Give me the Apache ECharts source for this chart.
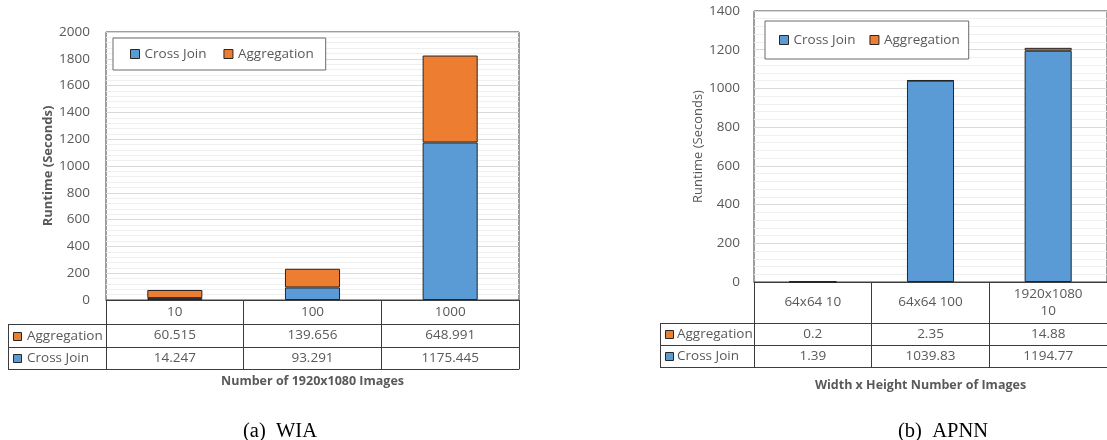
<!DOCTYPE html>
<html>
<head>
<meta charset="utf-8">
<script src="https://cdn.jsdelivr.net/npm/echarts@6/dist/echarts.min.js"></script>
<style>
  html, body { margin: 0; padding: 0; background: #ffffff; }
  #chart { width: 1107px; height: 440px; }
</style>
</head>
<body>
<div id="chart"></div>
<script>
// (a) WIA: runtime by number of 1920x1080 images
const wiaCategories = ['10', '100', '1000'];
const wiaCrossJoin = [14.247, 93.291, 1175.445];
const wiaAggregation = [60.515, 139.656, 648.991];
const wiaYMax = 2000;
const wiaYStep = 200;

// (b) APNN: runtime by image size and count
const apnnCategories = ['64x64 10', '64x64 100', '1920x1080\n10'];
const apnnCrossJoin = [1.39, 1039.83, 1194.77];
const apnnAggregation = [0.2, 2.35, 14.88];
const apnnYMax = 1400;
const apnnYStep = 200;

const seriesNames = ['Cross Join', 'Aggregation'];
const tableRowNames = ['Aggregation', 'Cross Join'];

const FONT = '"Open Sans", sans-serif';
const FS = 13.5;
const TEXT = '#595959';
const RULE = '#3c3c3c';
const BLUE = '#5b9bd5';
const ORANGE = '#ed7d31';
const EDGE = '#262626';

const panels = [
  {
    categories: wiaCategories, crossJoin: wiaCrossJoin, aggregation: wiaAggregation,
    yMax: wiaYMax, yStep: wiaYStep,
    grid: { left: 106, top: 32, width: 413, height: 268 },
    rows: [24, 23, 22], tableLeft: 8, keyText: 19,
    yName: 'Runtime (Seconds)', yNameBold: true, yNameGap: 46, yLabelMargin: 16,
    xTitle: 'Number of 1920x1080 Images', xTitlePos: [312.5, 381],
    caption: '(a)  WIA', captionPos: [280, 432],
    legend: { left: 113, top: 38, padding: [9, 12, 9, 17], itemGap: 17 }
  },
  {
    categories: apnnCategories, crossJoin: apnnCrossJoin, aggregation: apnnAggregation,
    yMax: apnnYMax, yStep: apnnYStep,
    grid: { left: 754, top: 11, width: 354, height: 271 },
    rows: [41, 22, 22], tableLeft: 660, keyText: 17,
    yName: 'Runtime (Seconds)', yNameBold: false, yNameGap: 47, yLabelMargin: 14,
    xTitle: 'Width x Height Number of Images', xTitlePos: [920.5, 385],
    caption: '(b)  APNN', captionPos: [943, 432],
    legend: { left: 765, top: 21, padding: [12, 9, 12, 14], itemGap: 14 }
  }
];

const option = {
  animation: false,
  grid: [], xAxis: [], yAxis: [], series: [], legend: [], graphic: []
};

panels.forEach((p, gi) => {
  const xBase = option.xAxis.length;
  const bottom = p.grid.top + p.grid.height;
  const rowTops = [0, p.rows[0], p.rows[0] + p.rows[1]];
  const tableBottom = p.rows[0] + p.rows[1] + p.rows[2];

  option.grid.push(Object.assign({
    show: true, borderColor: RULE, borderWidth: 1, backgroundColor: 'transparent',
    containLabel: false
  }, p.grid));

  // data table rows are stacked category axes under the plot
  const rowLabels = [p.categories, p.aggregation.map(String), p.crossJoin.map(String)];
  rowLabels.forEach((labels, r) => {
    option.xAxis.push({
      type: 'category', gridIndex: gi, position: 'bottom', offset: rowTops[r],
      data: labels,
      axisLine: { show: true, lineStyle: { color: RULE, width: 1 } },
      axisTick: { show: true, interval: 0, length: p.rows[r], lineStyle: { color: RULE, width: 1 } },
      axisLabel: {
        interval: 0, margin: p.rows[r] / 2, verticalAlign: 'middle',
        color: TEXT, fontFamily: FONT, fontSize: FS, lineHeight: 17
      },
      splitLine: { show: false }
    });
  });
  option.xAxis.push({
    type: 'category', gridIndex: gi, position: 'bottom', offset: tableBottom,
    data: p.categories,
    axisLine: { show: true, lineStyle: { color: RULE, width: 1 } },
    axisTick: { show: false }, axisLabel: { show: false }, splitLine: { show: false }
  });

  option.yAxis.push({
    type: 'value', gridIndex: gi, min: 0, max: p.yMax, interval: p.yStep,
    name: p.yName, nameLocation: 'middle', nameGap: p.yNameGap,
    nameTextStyle: { color: TEXT, fontFamily: FONT, fontSize: 13, fontWeight: p.yNameBold ? 'bold' : 'normal' },
    axisLine: { show: false }, axisTick: { show: false },
    axisLabel: { color: TEXT, fontFamily: FONT, fontSize: FS, margin: p.yLabelMargin,
                 formatter: v => String(v) },
    splitLine: { show: true, lineStyle: { color: '#d9d9d9', width: 1 } },
    minorTick: { show: false, splitNumber: 5 },
    minorSplitLine: { show: true, lineStyle: { color: '#efefef', width: 1 } }
  });

  const values = { 'Cross Join': p.crossJoin, 'Aggregation': p.aggregation };
  const colors = { 'Cross Join': BLUE, 'Aggregation': ORANGE };
  seriesNames.forEach(name => {
    option.series.push({
      name, type: 'bar', xAxisIndex: xBase, yAxisIndex: gi, stack: 'runtime' + gi,
      barWidth: '40%', data: values[name],
      itemStyle: { color: colors[name], borderColor: EDGE, borderWidth: 1 },
      emphasis: { disabled: true }
    });
  });

  option.legend.push(Object.assign({
    orient: 'horizontal', icon: 'rect', itemWidth: 9, itemHeight: 9,
    borderColor: '#6b6b6b', borderWidth: 1, backgroundColor: '#ffffff',
    textStyle: { color: TEXT, fontFamily: FONT, fontSize: FS },
    itemStyle: { borderColor: EDGE, borderWidth: 1 },
    data: seriesNames, selectedMode: false
  }, p.legend));

  // row-header column of the data table
  const x0 = p.tableLeft, x1 = p.grid.left;
  [rowTops[1], rowTops[2], tableBottom].forEach(dy => {
    option.graphic.push({
      type: 'line', silent: true,
      shape: { x1: x0, y1: bottom + dy + 0.5, x2: x1, y2: bottom + dy + 0.5 },
      style: { stroke: RULE, lineWidth: 1 }
    });
  });
  option.graphic.push({
    type: 'line', silent: true,
    shape: { x1: x0 + 0.5, y1: bottom + rowTops[1], x2: x0 + 0.5, y2: bottom + tableBottom + 1 },
    style: { stroke: RULE, lineWidth: 1 }
  });
  tableRowNames.forEach((name, i) => {
    const cy = bottom + rowTops[i + 1] + p.rows[i + 1] / 2 + 0.5;
    option.graphic.push({
      type: 'rect', silent: true,
      shape: { x: x0 + 5.5, y: Math.round(cy - 4.5) + 0.5, width: 8, height: 8 },
      style: { fill: colors[name], stroke: EDGE, lineWidth: 1 }
    });
    option.graphic.push({
      type: 'text', silent: true,
      style: { text: name, x: x0 + p.keyText, y: cy, align: 'left', verticalAlign: 'middle',
               font: FS + 'px ' + FONT, fill: TEXT }
    });
  });

  // axis title under the table and the panel caption
  option.graphic.push({
    type: 'text', silent: true,
    style: { text: p.xTitle, x: p.xTitlePos[0], y: p.xTitlePos[1], align: 'center', verticalAlign: 'middle',
             font: 'bold 12.5px ' + FONT, fill: TEXT }
  });
  option.graphic.push({
    type: 'text', silent: true,
    style: { text: p.caption, x: p.captionPos[0], y: p.captionPos[1], align: 'center', verticalAlign: 'middle',
             font: '20.5px "Liberation Serif", "DejaVu Serif", serif', fill: '#000000' }
  });
});

const chart = echarts.init(document.getElementById('chart'), null, { renderer: 'canvas' });
chart.setOption(option);
</script>
</body>
</html>
